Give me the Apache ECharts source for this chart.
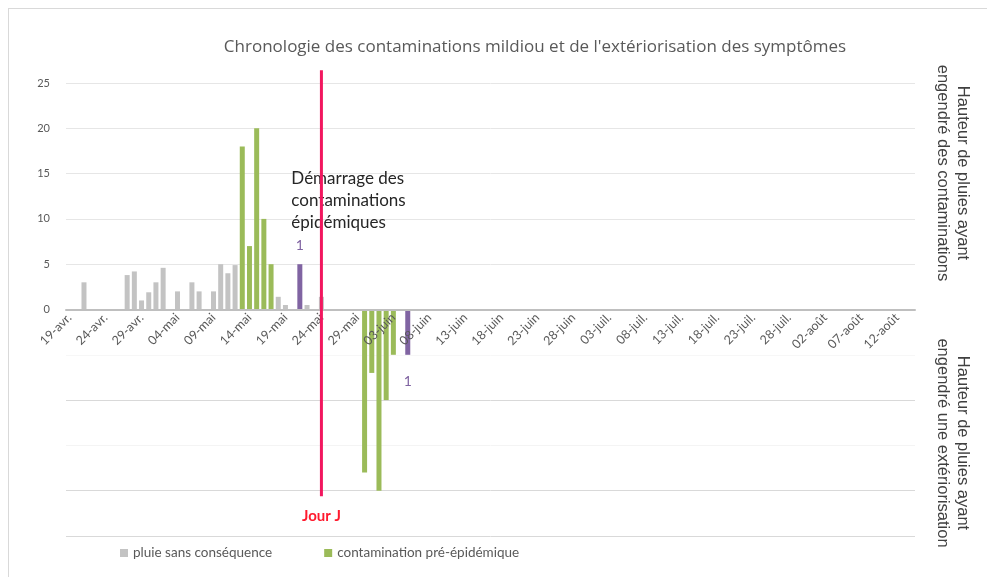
<!DOCTYPE html>
<html>
<head>
<meta charset="utf-8">
<script src="https://cdn.jsdelivr.net/npm/echarts@6/dist/echarts.min.js"></script>
<style>
  html, body { margin: 0; padding: 0; background: #fff; }
  #frame { position: absolute; left: 8px; top: 8px; width: 990px; height: 580px; border: 1px solid #d9d9d9; }
  #chart { position: absolute; left: 0; top: 0; width: 987px; height: 577px; }
</style>
</head>
<body>
<div id="frame"></div>
<div id="chart"></div>
<script>
// axis: one category per day, from 19 avril to 14 août
const monthNames = ['avr.', 'mai', 'juin', 'juil.', 'août'];
const monthDays = [30, 31, 30, 31, 31];
const startDay = 19;
const dayCount = 118;

// rain with no consequence (mm)
const rainDates = ['21-avr.', '27-avr.', '28-avr.', '29-avr.', '30-avr.', '01-mai', '02-mai', '04-mai', '06-mai',
    '07-mai', '09-mai', '10-mai', '11-mai', '12-mai', '18-mai', '19-mai', '22-mai', '24-mai'];
const rainValues = [3, 3.8, 4.2, 1, 1.9, 3, 4.6, 2, 3, 2, 2, 5, 4, 4.9, 1.4, 0.5, 0.5, 1.4];

// pre-epidemic contaminations (upper) and their symptom onset (lower, negative)
const contamDates = ['13-mai', '14-mai', '15-mai', '16-mai', '17-mai'];
const contamValues = [18, 7, 20, 10, 5];
const exterDates = ['30-mai', '31-mai', '01-juin', '02-juin', '03-juin'];
const exterValues = [-18, -7, -20, -10, -5];

// epidemic start
const epiContamDates = ['21-mai'];
const epiContamValues = [5];
const epiExterDates = ['05-juin'];
const epiExterValues = [-5];
const epiTag = '1';

// "Jour J" marker: day and vertical extent (in axis units)
const dayJ = '24-mai';
const dayJRange = [26.4, -20.6];

const categories = [];
{
    let m = 0, d = startDay;
    for (let i = 0; i < dayCount; i++) {
        categories.push(String(d).padStart(2, '0') + '-' + monthNames[m]);
        d++;
        if (d > monthDays[m]) { d = 1; m++; }
    }
}

function toSeries(dates, values) {
    const map = {};
    dates.forEach((c, i) => { map[c] = values[i]; });
    return categories.map(c => (c in map ? map[c] : '-'));
}

const FONT = 'Lato';
const GRID = { left: 66, right: 72, top: 83, bottom: 41 };
const plotHeight = 577 - GRID.top - GRID.bottom;

const chart = echarts.init(document.getElementById('chart'));

const barBase = { type: 'bar', barWidth: 5, barGap: '-100%', clip: false };

chart.setOption({
    animation: false,
    textStyle: { fontFamily: FONT },
    title: {
        text: "Chronologie des contaminations mildiou et de l'extériorisation des symptômes",
        left: 530, textAlign: 'center', top: 34,
        textStyle: { fontSize: 17, fontWeight: 'normal', color: '#595959', fontFamily: 'Open Sans' }
    },
    legend: {
        data: ['pluie sans conséquence', 'contamination pré-épidémique'],
        left: 115, top: 541,
        itemWidth: 8, itemHeight: 8, itemGap: 52,
        icon: 'rect',
        textStyle: { fontSize: 13.5, color: '#595959', fontFamily: FONT }
    },
    grid: GRID,
    xAxis: {
        type: 'category',
        data: categories,
        boundaryGap: true,
        position: 'bottom',
        offset: -plotHeight / 2,
        z: 5,
        axisLine: { onZero: false, lineStyle: { color: '#bfbfbf', width: 2 } },
        axisTick: { interval: 4, length: 5, lineStyle: { color: '#bfbfbf' } },
        axisLabel: { interval: 4, rotate: 45, fontSize: 12.5, color: '#595959', margin: 6 }
    },
    yAxis: {
        type: 'value',
        min: -25, max: 25, interval: 5,
        axisLine: { show: false },
        axisTick: { show: false },
        axisLabel: {
            fontSize: 11, color: '#595959', margin: 16,
            formatter: v => (v >= 0 ? String(v) : '')
        },
        splitLine: {
            lineStyle: {
                color: ['#d9d9d9', '#d9d9d9', '#f4f4f4', '#d9d9d9', '#f7f7f7', '#d9d9d9',
                    '#e6e6e6', '#e6e6e6', '#e6e6e6', '#e6e6e6', '#e6e6e6']
            }
        }
    },
    series: [
        Object.assign({}, barBase, {
            name: 'pluie sans conséquence',
            itemStyle: { color: '#c3c3c3' },
            data: toSeries(rainDates, rainValues)
        }),
        Object.assign({}, barBase, {
            name: 'contamination pré-épidémique',
            itemStyle: { color: '#9bbb59' },
            data: toSeries(contamDates, contamValues)
        }),
        Object.assign({}, barBase, {
            name: 'extériorisation pré-épidémique',
            itemStyle: { color: '#9bbb59' },
            data: toSeries(exterDates, exterValues)
        }),
        Object.assign({}, barBase, {
            name: 'contamination épidémique',
            itemStyle: { color: '#8064a2' },
            label: {
                show: true, position: 'top', distance: 12,
                formatter: () => epiTag, color: '#8064a2', fontSize: 14
            },
            data: toSeries(epiContamDates, epiContamValues),
            markPoint: {
                symbol: 'rect', symbolSize: 1,
                itemStyle: { color: 'rgba(0,0,0,0)' },
                label: {
                    show: true, position: [-8, -96], align: 'left', verticalAlign: 'top',
                    formatter: 'Démarrage des\ncontaminations\népidémiques',
                    color: '#262626', fontSize: 17, lineHeight: 22, fontFamily: FONT
                },
                data: [{ coord: [epiContamDates[0], epiContamValues[0]] }]
            }
        }),
        Object.assign({}, barBase, {
            name: 'extériorisation épidémique',
            itemStyle: { color: '#8064a2' },
            label: {
                show: true, position: 'bottom', distance: 20,
                formatter: () => epiTag, color: '#8064a2', fontSize: 14
            },
            data: toSeries(epiExterDates, epiExterValues)
        }),
        {
            name: 'Jour J',
            type: 'line',
            clip: false,
            z: 6,
            symbol: 'circle',
            symbolSize: 0.1,
            itemStyle: { color: 'rgba(0,0,0,0)' },
            lineStyle: { color: '#f2175f', width: 3 },
            label: { show: false },
            data: [
                [dayJ, dayJRange[0]],
                {
                    value: [dayJ, dayJRange[1]],
                    label: {
                        show: true, position: 'bottom', distance: 12,
                        formatter: 'Jour J', color: '#ff1a2e', fontWeight: 'bold', fontSize: 15
                    }
                }
            ]
        }
    ],
    graphic: [
        {
            type: 'text', x: 953, y: 173, rotation: -Math.PI / 2,
            style: {
                text: 'Hauteur de pluies ayant\nengendré des contaminations',
                textAlign: 'center', textVerticalAlign: 'middle',
                font: '16.5px "Liberation Sans"', fill: '#404040', lineHeight: 20
            }
        },
        {
            type: 'text', x: 953, y: 443, rotation: -Math.PI / 2,
            style: {
                text: 'Hauteur de pluies ayant\nengendré une extériorisation',
                textAlign: 'center', textVerticalAlign: 'middle',
                font: '16.5px "Liberation Sans"', fill: '#404040', lineHeight: 20
            }
        }
    ]
});
</script>
</body>
</html>
